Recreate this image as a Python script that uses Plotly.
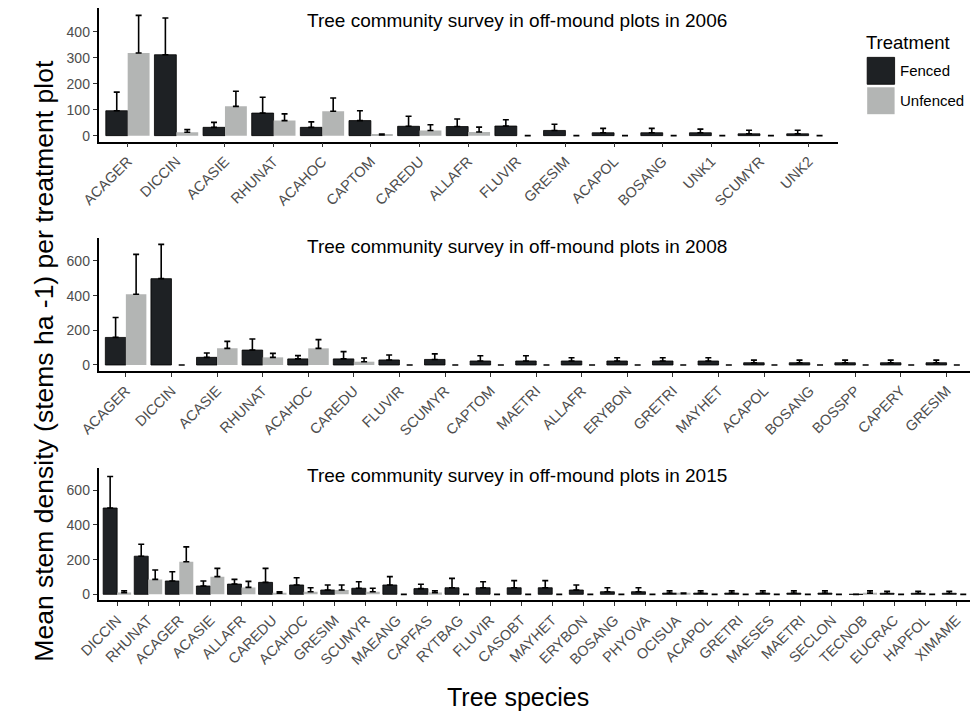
import plotly.graph_objects as go

# ---------------- data ----------------
species_2006 = ["ACAGER", "DICCIN", "ACASIE", "RHUNAT", "ACAHOC", "CAPTOM", "CAREDU", "ALLAFR",
                "FLUVIR", "GRESIM", "ACAPOL", "BOSANG", "UNK1", "SCUMYR", "UNK2"]
fenced_2006 = [96, 312, 32, 87, 32, 58, 36, 35, 37, 20, 11, 11, 11, 7, 7]
fenced_se_2006 = [72, 142, 19, 61, 21, 38, 39, 29, 24, 24, 17, 17, 14, 14, 14]
unfenced_2006 = [319, 13, 113, 58, 94, 3, 20, 14, 0, 0, 0, 0, 0, 0, 0]
unfenced_se_2006 = [145, 10, 58, 26, 51, 3, 22, 19, 0, 0, 0, 0, 0, 0, 0]

species_2008 = ["ACAGER", "DICCIN", "ACASIE", "RHUNAT", "ACAHOC", "CAREDU", "FLUVIR", "SCUMYR",
                "CAPTOM", "MAETRI", "ALLAFR", "ERYBON", "GRETRI", "MAYHET", "ACAPOL", "BOSANG",
                "BOSSPP", "CAPERY", "GRESIM"]
fenced_2008 = [159, 498, 44, 86, 35, 35, 29, 32, 23, 23, 23, 23, 23, 23, 13, 13, 13, 13, 13]
fenced_se_2008 = [115, 198, 25, 64, 19, 42, 29, 32, 30, 30, 19, 19, 19, 19, 15, 15, 15, 15, 15]
unfenced_2008 = [408, 0, 96, 44, 96, 19, 0, 0, 0, 0, 0, 0, 0, 0, 0, 0, 0, 0, 0]
unfenced_se_2008 = [230, 0, 40, 23, 50, 21, 0, 0, 0, 0, 0, 0, 0, 0, 0, 0, 0, 0, 0]

species_2015 = ["DICCIN", "RHUNAT", "ACAGER", "ACASIE", "ALLAFR", "CAREDU", "ACAHOC", "GRESIM",
                "SCUMYR", "MAEANG", "CAPFAS", "RYTBAG", "FLUVIR", "CASOBT", "MAYHET", "ERYBON",
                "BOSANG", "PHYOVA", "OCISUA", "ACAPOL", "GRETRI", "MAESES", "MAETRI", "SECLON",
                "TECNOB", "EUCRAC", "HAPFOL", "XIMAME"]
fenced_2015 = [498, 220, 77, 48, 59, 69, 54, 25, 35, 54, 33, 38, 38, 38, 38, 25, 15, 15,
               7, 7, 7, 7, 7, 7, 0, 6, 6, 6]
fenced_se_2015 = [182, 69, 53, 29, 27, 81, 42, 29, 38, 48, 25, 54, 35, 41, 41, 29, 23, 23,
                  13, 13, 13, 13, 13, 13, 0, 12, 12, 12]
unfenced_2015 = [10, 86, 188, 102, 40, 6, 15, 25, 15, 0, 10, 0, 0, 0, 0, 0, 0, 0,
                 4, 0, 0, 0, 0, 0, 7, 0, 0, 0]
unfenced_se_2015 = [11, 54, 86, 48, 35, 9, 23, 29, 20, 0, 11, 0, 0, 0, 0, 0, 0, 0,
                    4, 0, 0, 0, 0, 0, 13, 0, 0, 0]

titles = ["Tree community survey in off-mound plots in 2006",
          "Tree community survey in off-mound plots in 2008",
          "Tree community survey in off-mound plots in 2015"]
yticks_2006 = [0, 100, 200, 300, 400]
yticks_other = [0, 200, 400, 600]
groups = ["Fenced", "Unfenced"]

# ---------------- style ----------------
# page body has an 8px margin; size the figure so it fits the 978x721 window
OFF = 8
W, H = 978 - 2 * OFF, 721 - 2 * OFF
FONT = "Liberation Sans, Arial, Helvetica, sans-serif"
DARK = "#1e2124"
GRAY = "#b3b5b4"
TICKCOL = "#4d4d4d"


def px(x):
    return min(1.0, max(0.0, (x - OFF) / W))


def py(y):
    return min(1.0, max(0.0, 1 - (y - OFF) / H))


panels = [
    dict(species=species_2006, f=fenced_2006, fse=fenced_se_2006, u=unfenced_2006, use=unfenced_se_2006,
         x0=80, x1=835, ytop=8, ybot=142, yzero=136, unit=104 / 400, ticks=yticks_2006, title_y=20.5),
    dict(species=species_2008, f=fenced_2008, fse=fenced_se_2008, u=unfenced_2008, use=unfenced_se_2008,
         x0=80, x1=974, ytop=239, ybot=372, yzero=366, unit=104.3 / 600, ticks=yticks_other, title_y=247),
    dict(species=species_2015, f=fenced_2015, fse=fenced_se_2015, u=unfenced_2015, use=unfenced_se_2015,
         x0=80, x1=975, ytop=469, ybot=602, yzero=596, unit=104.3 / 600, ticks=yticks_other, title_y=477),
]

fig = go.Figure()
annotations = []
for i, p in enumerate(panels, start=1):
    xa = "x" if i == 1 else f"x{i}"
    ya = "y" if i == 1 else f"y{i}"
    n = len(p["species"])
    for name, vals, se, col, lw in [("Fenced", p["f"], p["fse"], DARK, 0.8),
                                    ("Unfenced", p["u"], p["use"], GRAY, 0)]:
        fig.add_trace(go.Bar(
            x=p["species"], y=vals, name=name, xaxis=xa, yaxis=ya, showlegend=False,
            offsetgroup=name,
            marker=dict(color=col, line=dict(color="black", width=lw)),
            error_y=dict(type="data", array=se, arrayminus=[0] * n, symmetric=False,
                         color="black", thickness=1.6, width=3),
        ))
    top = (p["yzero"] - p["ytop"]) / p["unit"]
    bot = -(p["ybot"] - p["yzero"]) / p["unit"]
    # keep category spacing of the reference even if the panel is clipped at the window edge
    spacing = (p["x1"] - p["x0"]) / (n + 0.2)
    x1_vis = min(p["x1"], OFF + W)
    xmax = -0.6 + (x1_vis - p["x0"]) / spacing
    axkey = "xaxis" if i == 1 else f"xaxis{i}"
    aykey = "yaxis" if i == 1 else f"yaxis{i}"
    fig.layout[axkey] = dict(
        domain=[px(p["x0"]), px(x1_vis)], anchor=ya, type="category",
        categoryorder="array", categoryarray=p["species"], range=[-0.6, xmax],
        showline=True, linecolor="black", linewidth=1.5, showgrid=False, zeroline=False,
        ticks="outside", ticklen=4, tickwidth=1.2, tickcolor="#333333", tickangle=-45,
        tickfont=dict(family=FONT, size=14.5, color=TICKCOL),
    )
    fig.layout[aykey] = dict(
        domain=[py(p["ybot"]), py(p["ytop"])], anchor=xa, range=[bot, top],
        tickvals=p["ticks"], showline=True, linecolor="black", linewidth=1.5,
        showgrid=False, zeroline=False, ticks="outside", ticklen=4, tickwidth=1.2,
        tickcolor="#333333", tickfont=dict(family=FONT, size=14, color=TICKCOL),
    )
    annotations.append(dict(text=titles[i - 1], x=px(507), y=py(p["title_y"]), xref="paper", yref="paper",
                            showarrow=False, xanchor="center", yanchor="middle",
                            font=dict(family=FONT, size=19, color="black")))

# axis titles
annotations.append(dict(text="Tree species", x=px(508), y=py(699), xref="paper", yref="paper",
                        showarrow=False, xanchor="center", yanchor="middle",
                        font=dict(family=FONT, size=25, color="black")))
annotations.append(dict(text="Mean stem density (stems ha -1) per treatment plot", x=px(24), y=py(362),
                        xref="paper", yref="paper", showarrow=False, textangle=-90,
                        xanchor="center", yanchor="middle",
                        font=dict(family=FONT, size=26.5, color="black")))

# legend (drawn)
annotations.append(dict(text="Treatment", x=px(862), y=py(43), xref="paper", yref="paper",
                        showarrow=False, xanchor="left", yanchor="middle",
                        font=dict(family=FONT, size=18.5, color="black")))
shapes = []
for k, (g, col, yc) in enumerate([(groups[0], DARK, 71), (groups[1], GRAY, 101)]):
    shapes.append(dict(type="rect", xref="paper", yref="paper", x0=px(865), x1=px(893),
                       y0=py(yc - 13.5), y1=py(yc + 13.5), fillcolor=col,
                       line=dict(color="black" if k == 0 else GRAY, width=0.8 if k == 0 else 0)))
    annotations.append(dict(text=g, x=px(896), y=py(yc), xref="paper", yref="paper",
                            showarrow=False, xanchor="left", yanchor="middle",
                            font=dict(family=FONT, size=15, color="black")))

fig.update_layout(
    width=W, height=H, margin=dict(l=0, r=0, t=0, b=0),
    paper_bgcolor="white", plot_bgcolor="white",
    barmode="group", bargap=0.1, bargroupgap=0,
    annotations=annotations, shapes=shapes, showlegend=False,
    font=dict(family=FONT),
)

fig.write_html("out.html")
